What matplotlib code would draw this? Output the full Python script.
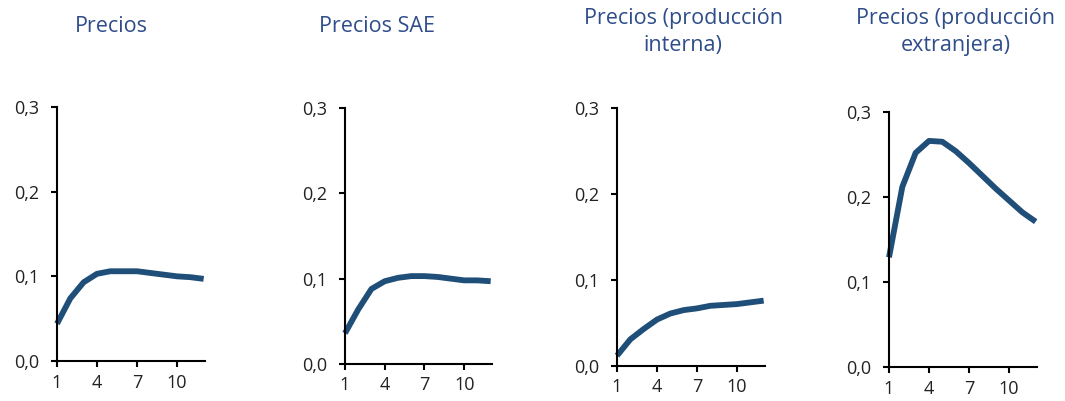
import matplotlib
matplotlib.use('Agg')
import matplotlib.pyplot as plt
from matplotlib.ticker import FuncFormatter

plt.rcParams['font.family'] = ['Open Sans', 'DejaVu Sans']

periods = list(range(1, 13))

precios = [0.044, 0.074, 0.093, 0.103, 0.106, 0.106, 0.106, 0.104, 0.102, 0.100, 0.099, 0.097]
precios_sae = [0.036, 0.064, 0.088, 0.097, 0.101, 0.103, 0.103, 0.102, 0.100, 0.098, 0.098, 0.097]
precios_interna = [0.012, 0.031, 0.043, 0.054, 0.061, 0.065, 0.067, 0.070, 0.071, 0.072, 0.074, 0.076]
precios_extranjera = [0.129, 0.212, 0.252, 0.266, 0.265, 0.254, 0.240, 0.225, 0.210, 0.196, 0.182, 0.171]

titles = ['Precios', 'Precios SAE', 'Precios (producción\ninterna)', 'Precios (producción\nextranjera)']
series = [precios, precios_sae, precios_interna, precios_extranjera]

# axes boxes in pixels: left, right, bottom, top
boxes = [(57, 205, 361, 107), (345, 492, 364, 108), (617, 765, 366, 108), (889, 1037, 367, 112)]
title_pos = [(111, 27), (377, 27), (683, 32), (956, 32)]

W, H = 1065, 401
fig = plt.figure(figsize=(W / 100, H / 100), dpi=100)

line_color = '#1F4E79'
title_color = '#2E4D8A'

fmt = FuncFormatter(lambda v, p: f'{v:.1f}'.replace('.', ','))

for (l, r, b, t), vals, title, (tx, ty) in zip(boxes, series, titles, title_pos):
    ax = fig.add_axes([l / W, 1 - b / H, (r - l) / W, (b - t) / H])
    ax.plot(periods, vals, color=line_color, lw=4.2, solid_capstyle='butt', clip_on=False)
    ax.set_xlim(1, 12.1)
    ax.set_ylim(0, 0.3)
    ax.set_xticks([1, 4, 7, 10])
    ax.set_yticks([0, 0.1, 0.2, 0.3])
    ax.yaxis.set_major_formatter(fmt)
    for s in ['top', 'right']:
        ax.spines[s].set_visible(False)
    for s in ['left', 'bottom']:
        ax.spines[s].set_linewidth(1.5)
    ax.tick_params(axis='both', length=4, width=1.5, labelsize=13, colors='black', labelcolor='#222222')
    ax.tick_params(axis='y', pad=9)
    ax.tick_params(axis='x', pad=5)
    fig.text(tx / W, 1 - ty / H, title, ha='center', va='center', color=title_color,
             fontsize=15.5, linespacing=1.32)

fig.savefig('out.png', dpi=100)
